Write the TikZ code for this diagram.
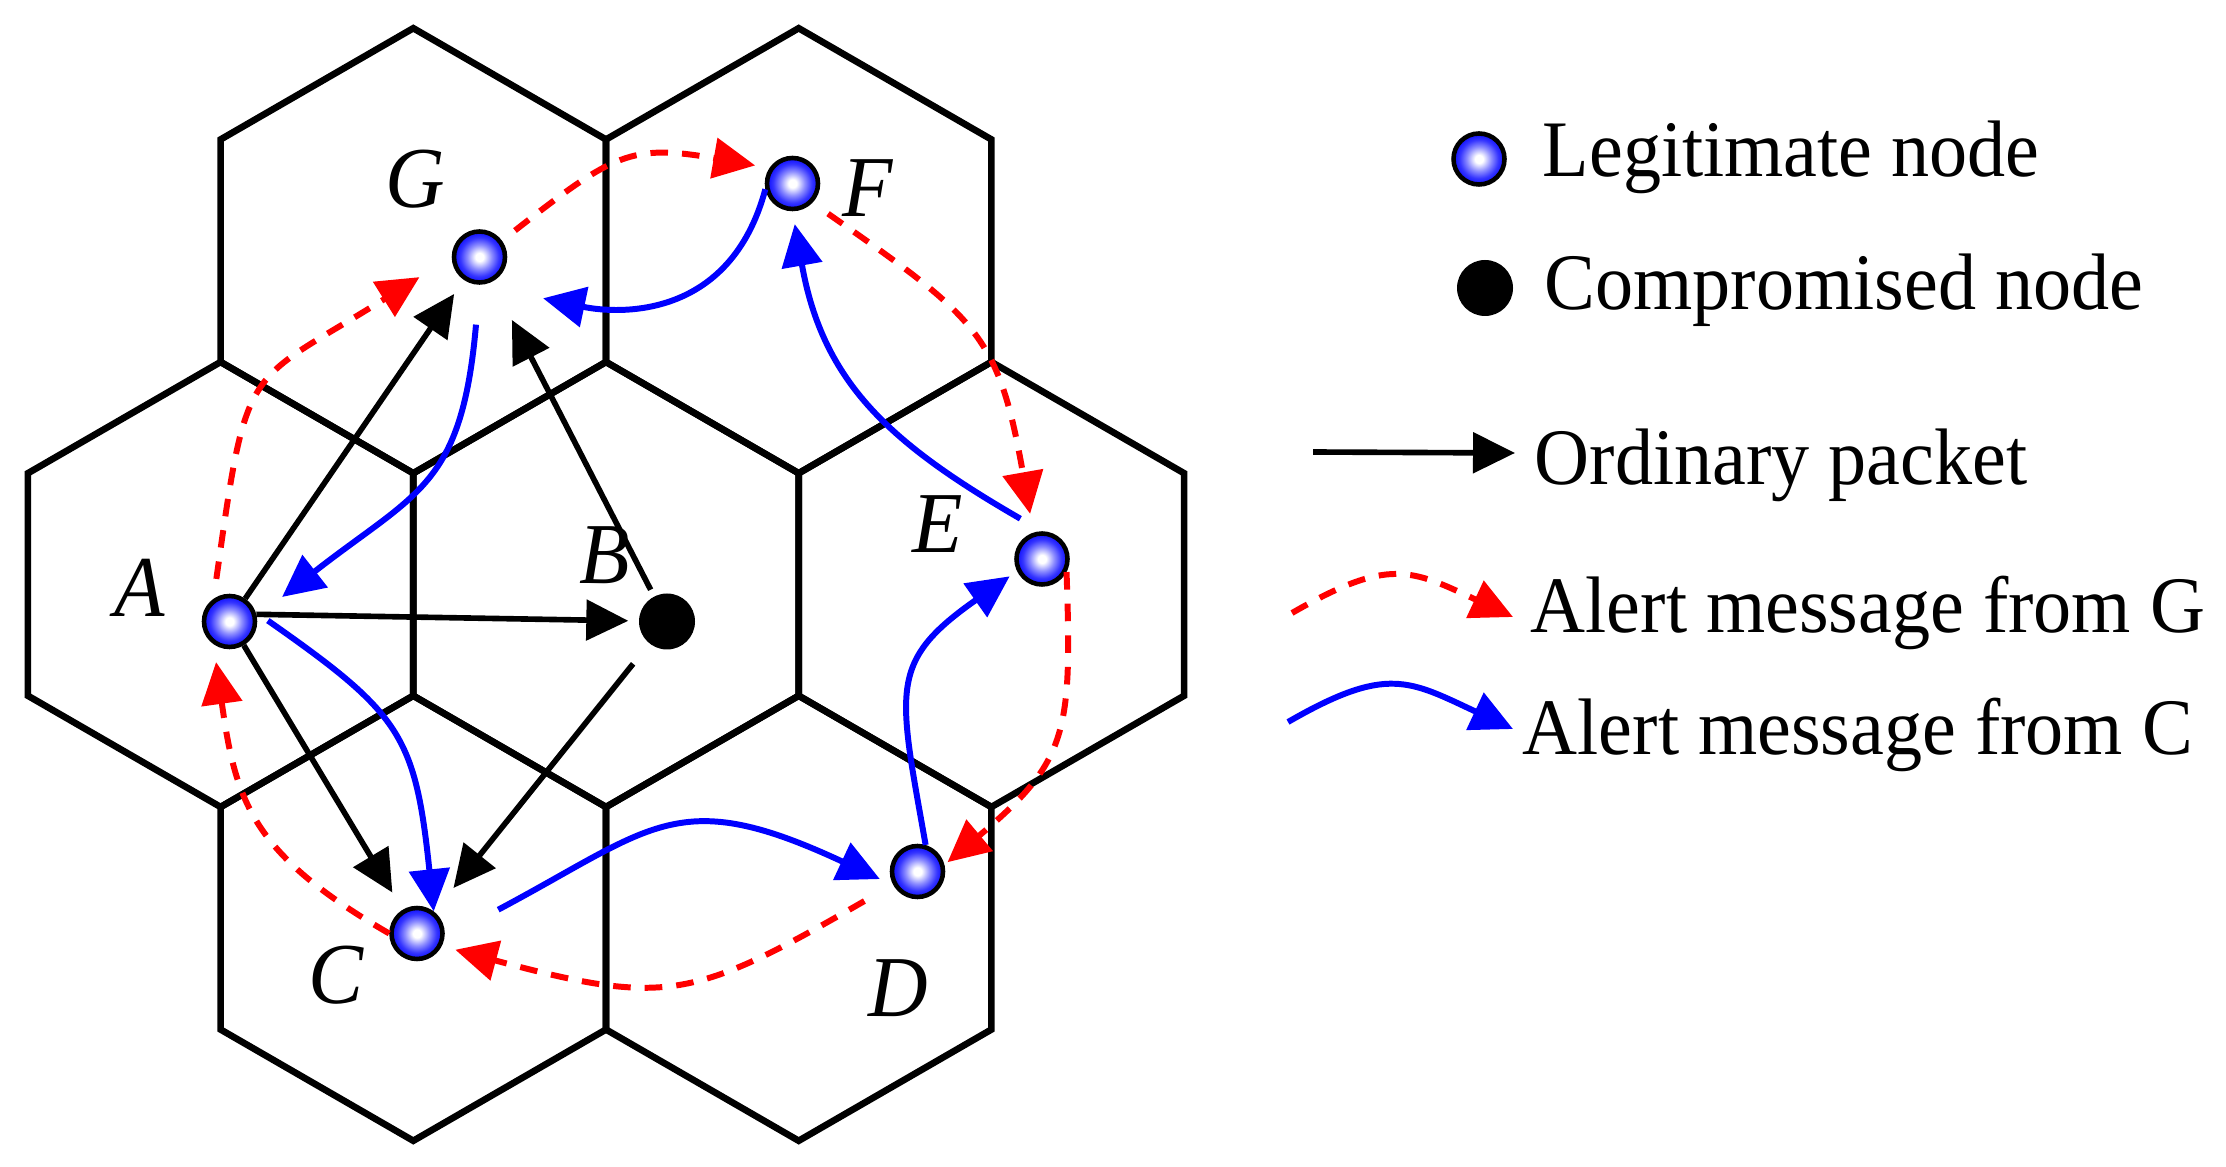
\documentclass[tikz,border=0pt]{standalone}
\usepackage{fontspec}
\setmainfont{Liberation Serif}[FakeStretch=0.95]
\usepackage{tikz}
\usetikzlibrary{arrows.meta, positioning}
\definecolor{AlertRed}{RGB}{255,0,0}
\definecolor{AlertBlue}{RGB}{0,0,255}
\definecolor{BallBlue}{RGB}{25,25,255}
\pgfdeclareradialshading{ballglow}{\pgfpoint{0bp}{0bp}}{color(0bp)=(white); color(4bp)=(white);
  color(12bp)=(BallBlue!50!white); color(19bp)=(BallBlue!88!white); color(23bp)=(BallBlue);
  color(50bp)=(BallBlue)}

\begin{document}
\begin{tikzpicture}[
            cell/.style={line width=1.9pt},
            legit/.style={circle, draw=black, line width=1.3pt, minimum size=0.51cm,
                          inner sep=0pt, shading=ballglow},
            bad/.style={circle, fill=black, minimum size=0.56cm, inner sep=0pt},
            lbl/.style={font=\fontsize{24.7}{28}\selectfont\itshape, inner sep=0pt},
            txt/.style={font=\fontsize{22.8}{26}\selectfont, anchor=base west, inner sep=0pt},
            pkt/.style={-{Triangle[length=4.2mm, width=4mm]}, line width=1.6pt},
            alertg/.style={-{Triangle[length=4.2mm, width=4mm]}, draw=AlertRed,
                           line width=1.7pt, dash pattern=on 5pt off 4pt},
            alertc/.style={-{Triangle[length=4.2mm, width=4mm]}, draw=AlertBlue,
                           line width=1.7pt}
          ]
          \useasboundingbox (0,0) rectangle (22.26,11.66);

          \begin{scope}[shift={(6.06,5.815)}]
            \foreach \a/\d in {0/0, 0/3.854, 60/3.854, 120/3.854, 180/3.854, 240/3.854, 300/3.854}
              \draw[cell, shift={(\a:\d)}] (90:2.225) -- (150:2.225) -- (210:2.225)
                    -- (270:2.225) -- (330:2.225) -- (30:2.225) -- cycle;
          \end{scope}

          \node[legit] (G) at (4.795, 9.09)  {};
          \node[legit] (F) at (7.925, 9.825) {};
          \node[legit] (A) at (2.295, 5.445) {};
          \node[bad]   (B) at (6.67,  5.445) {};
          \node[legit] (E) at (10.42, 6.07)  {};
          \node[legit] (D) at (9.175, 2.945) {};
          \node[legit] (C) at (4.17,  2.325) {};

          \node[lbl] (lG) at (4.15,  9.87)  {G};
          \node[lbl] (lF) at (8.68,  9.775) {F};
          \node[lbl] (lA) at (1.395, 5.785) {A};
          \node[lbl] (lB) at (6.05,  6.105) {B};
          \node[lbl] (lE) at (9.375, 6.415) {E};
          \node[lbl] (lD) at (8.985, 1.78)  {D};
          \node[lbl] (lC) at (3.36,  1.91)  {C};

          \draw[pkt, shorten >=0.17cm] (A) -- (G);
          \draw[pkt, shorten <=0.07cm, shorten >=0.43cm] (B) -- (G);
          \draw[pkt, shorten >=0.1cm] (A.15) -- (B);
          \draw[pkt, shorten >=0.2cm] (A) -- (C);
          \draw[pkt, shorten <=0.255cm, shorten >=0.305cm] (B) -- (C);

          \draw[alertg, shorten <=0.165cm, shorten >=0.145cm]
                (G.36) to[out=38, in=170, looseness=1.3] (F.146);
          \draw[alertg, shorten <=0.19cm, shorten >=0.19cm]
                (F.-44) to[out=-35, in=100, looseness=1.3] (E.108);
          \draw[alertg, shorten >=0.04cm]
                (E.-28) to[out=-88, in=40, looseness=1.3] (D.14);
          \draw[alertg, shorten <=0.33cm, shorten >=0.14cm]
                (D.208) to[out=-150, in=-15, looseness=1.3] (C.-27);
          \draw[alertg, shorten >=0.18cm]
                (C.west) to[out=150, in=-82, looseness=1.2] (A.235);
          \draw[alertg, shorten <=0.2cm, shorten >=0.38cm]
                (A.125) to[out=82, in=-148, looseness=1.5] (G.west);

          \draw[alertc, shorten <=0.61cm, shorten >=0.15cm]
                (C.-10) to[out=28, in=155, looseness=1.35] (D.210);
          \draw[alertc, shorten >=0.09cm]
                (D.73) to[out=100, in=215, looseness=1.4] (E.206);
          \draw[alertc, shorten <=0.25cm, shorten >=0.13cm]
                (E.north) to[out=150, in=-80, looseness=1.1] (F.south);
          \draw[alertc, shorten >=0.65cm]
                (F.192) to[out=-105, in=-12, out looseness=1.15, in looseness=1.2] (G.south);
          \draw[alertc, shorten <=0.4cm, shorten >=0.32cm]
                (G.south) to[out=-95, in=38, looseness=1.3] (A.10);
          \draw[alertc, shorten <=0.15cm]
                (A.20) to[out=-35, in=96, looseness=1.3] (C.53);

          \node[legit] (kLegit) at (14.79, 10.07) {};
          \node[txt]   (tLegit) at (15.42, 9.89) {Legitimate node};
          \node[bad]   (kBad)   at (14.85, 8.78) {};
          \node[txt]   (tBad)   at (15.44, 8.56) {Compromised node};

          \coordinate (pk0) at (13.13, 7.14);
          \coordinate (pk1) at (15.15, 7.13);
          \draw[pkt] (pk0) -- (pk1);
          \node[txt] (tPkt) at (15.34, 6.81) {Ordinary packet};

          \coordinate (ag0) at (12.92, 5.53);
          \coordinate (ag1) at (15.13, 5.49);
          \draw[alertg] (ag0) to[out=30, in=155, looseness=1.3] (ag1);
          \node[txt] (tAg) at (15.30, 5.33) {Alert message from G};

          \coordinate (ac0) at (12.88, 4.44);
          \coordinate (ac1) at (15.13, 4.37);
          \draw[alertc] (ac0) to[out=30, in=155, looseness=1.3] (ac1);
          \node[txt] (tAc) at (15.22, 4.11) {Alert message from C};
        \end{tikzpicture}
\end{document}
